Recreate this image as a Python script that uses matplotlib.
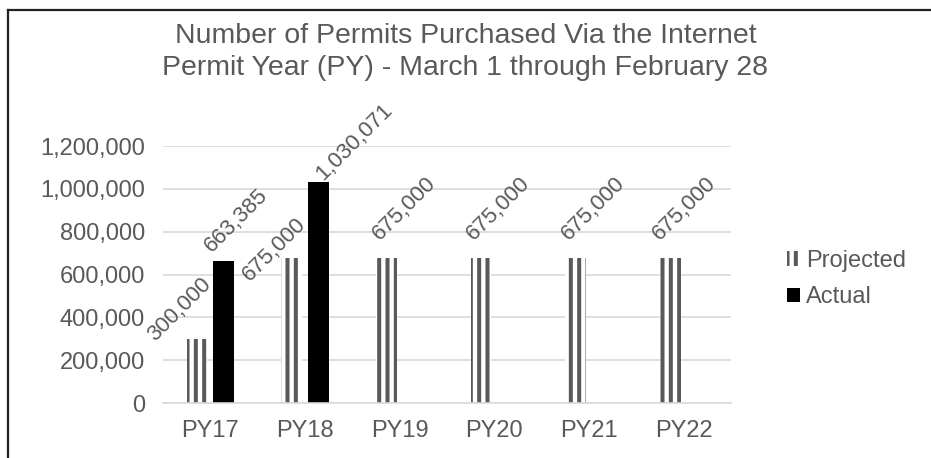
import matplotlib.pyplot as plt
import numpy as np
from matplotlib.lines import Line2D
from matplotlib.ticker import FuncFormatter

years = ["PY17", "PY18", "PY19", "PY20", "PY21", "PY22"]
projected = [300000, 675000, 675000, 675000, 675000, 675000]
actual = [663385, 1030071]

# label nudges in pixels from each bar's top-left corner
proj_label_offsets = [(-32, -3), (-32, -23), (4, 18), (3, 18), (3, 18), (0, 18)]
act_label_offsets = [(-1, 8), (15, 2)]

TEXT = "#595959"
plt.rcParams["font.family"] = ["Liberation Sans", "DejaVu Sans"]
plt.rcParams["hatch.color"] = "#595959"
plt.rcParams["hatch.linewidth"] = 2.9

fig = plt.figure(figsize=(9.31, 4.58), dpi=100)
ax = fig.add_axes([163 / 931, 1 - 403 / 458, (731 - 163) / 931, (403 - 146) / 458])

x = np.arange(len(years))
width = 0.22
off = 0.14

proj_bars = ax.bar(x - off, projected, width, facecolor="white", hatch="||",
                   linewidth=0, label="Projected", zorder=2)
act_bars = ax.bar(x[:len(actual)] + off, actual, width, color="black",
                  linewidth=0, label="Actual", zorder=2)

for bars, vals, offs in [(proj_bars, projected, proj_label_offsets),
                         (act_bars, actual, act_label_offsets)]:
    for b, v, (dx, dy) in zip(bars, vals, offs):
        ax.annotate(f"{v:,}", (b.get_x(), v), xytext=(dx, dy),
                    textcoords="offset pixels", rotation=45,
                    rotation_mode="anchor", ha="left", va="baseline",
                    fontsize=16, color=TEXT, annotation_clip=False)

ax.set_xlim(-0.5, len(years) - 0.5)
ax.set_ylim(0, 1200000)
ax.set_yticks(np.arange(0, 1200001, 200000))
ax.yaxis.set_major_formatter(FuncFormatter(lambda v, p: f"{v:,.0f}"))
ax.set_xticks(x)
ax.set_xticklabels(years)
ax.tick_params(axis="both", length=0, labelsize=17, labelcolor=TEXT)
ax.tick_params(axis="y", pad=13)
ax.tick_params(axis="x", pad=12)
ax.grid(axis="y", color="#d9d9d9", linewidth=1.2, zorder=0)
ax.set_axisbelow(True)
for s in ["top", "right", "left"]:
    ax.spines[s].set_visible(False)
ax.spines["bottom"].set_color("#d9d9d9")
ax.spines["bottom"].set_linewidth(1.2)

fig.text(0.5, 1 - 36 / 458, "Number of Permits Purchased Via the Internet",
         ha="center", va="center", fontsize=20.5, color=TEXT)
fig.text(0.5, 1 - 68 / 458, "Permit Year (PY) - March 1 through February 28",
         ha="center", va="center", fontsize=20.5, color=TEXT)

ax.legend(loc="center left", bbox_to_anchor=(766 / 931, 1 - 279 / 458),
          bbox_transform=fig.transFigure, frameon=False, fontsize=17,
          labelcolor=TEXT, handlelength=0.55, handleheight=0.55,
          handletextpad=0.25, labelspacing=0.6)

# chart frame (top and left edges)
fig.add_artist(Line2D([8 / 931, 1], [1 - 10 / 458] * 2, color="#222222",
                      linewidth=1.6, transform=fig.transFigure))
fig.add_artist(Line2D([8 / 931] * 2, [0, 1 - 10 / 458], color="#222222",
                      linewidth=1.6, transform=fig.transFigure))

fig.savefig("out.png", dpi=100)
